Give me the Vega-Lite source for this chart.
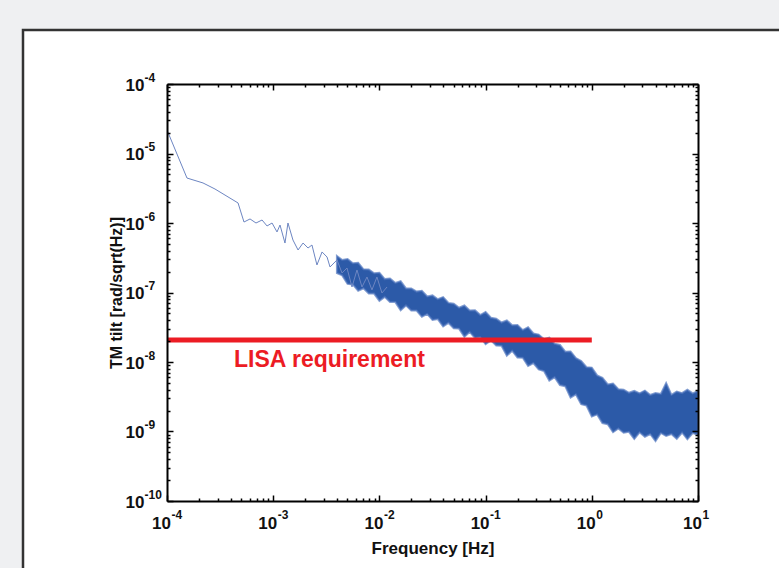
{
  "$schema": "https://vega.github.io/schema/vega-lite/v6.json",
  "width": 531,
  "height": 417,
  "autosize": {"type": "none"},
  "padding": {"left": 167, "top": 84, "right": 81, "bottom": 67},
  "background": "#eff0f2",
  "config": {
    "view": {"stroke": null},
    "font": "Liberation Sans",
    "axis": {
      "grid": false,
      "domainColor": "#000000",
      "domainWidth": 2,
      "tickColor": "#000000",
      "tickWidth": 1.5,
      "labelFont": "Liberation Sans",
      "labelFontWeight": "bold",
      "labelColor": "#111111",
      "labelFlush": false,
      "labelOverlap": false,
      "titleFont": "Liberation Sans",
      "titleFontWeight": "bold",
      "titleColor": "#111111"
    }
  },
  "datasets": {
    "low": [
      {"freq": 1.0e-4, "tilt": 2.178e-5},
      {"freq": 1.542e-4, "tilt": 4.436e-6},
      {"freq": 2.183e-4, "tilt": 3.767e-6},
      {"freq": 2.831e-4, "tilt": 3.083e-6},
      {"freq": 4.667e-4, "tilt": 1.941e-6},
      {"freq": 5.309e-4, "tilt": 1.033e-6},
      {"freq": 6.053e-4, "tilt": 1.143e-6},
      {"freq": 6.887e-4, "tilt": 1.0e-6},
      {"freq": 7.852e-4, "tilt": 1.104e-6},
      {"freq": 8.75e-4, "tilt": 9.06e-7},
      {"freq": 9.75e-4, "tilt": 1.0e-6},
      {"freq": 1.086e-3, "tilt": 7.43e-7},
      {"freq": 1.159e-3, "tilt": 9.35e-7},
      {"freq": 1.291e-3, "tilt": 5.15e-7},
      {"freq": 1.377e-3, "tilt": 1.0e-6},
      {"freq": 1.535e-3, "tilt": 5.69e-7},
      {"freq": 1.714e-3, "tilt": 4.09e-7},
      {"freq": 1.91e-3, "tilt": 5.15e-7},
      {"freq": 2.128e-3, "tilt": 4.37e-7},
      {"freq": 2.317e-3, "tilt": 4.82e-7},
      {"freq": 2.582e-3, "tilt": 2.49e-7},
      {"freq": 2.884e-3, "tilt": 3.83e-7},
      {"freq": 3.214e-3, "tilt": 3.24e-7},
      {"freq": 3.428e-3, "tilt": 2.33e-7},
      {"freq": 3.99e-3, "tilt": 2.94e-7},
      {"freq": 4.446e-3, "tilt": 1.91e-7},
      {"freq": 4.955e-3, "tilt": 2.25e-7},
      {"freq": 5.52e-3, "tilt": 1.2e-7},
      {"freq": 6.15e-3, "tilt": 2.11e-7},
      {"freq": 6.855e-3, "tilt": 1.2e-7},
      {"freq": 7.64e-3, "tilt": 1.67e-7},
      {"freq": 8.51e-3, "tilt": 1.09e-7},
      {"freq": 9.48e-3, "tilt": 1.67e-7},
      {"freq": 1.057e-2, "tilt": 9.84e-8},
      {"freq": 1.18e-2, "tilt": 1.2e-7}
    ],
    "band": [
      {"freq": 3.981e-3, "hi": 3.352e-7, "lo": 1.908e-7},
      {"freq": 4.467e-3, "hi": 2.936e-7, "lo": 1.762e-7},
      {"freq": 5.012e-3, "hi": 3.034e-7, "lo": 1.329e-7},
      {"freq": 5.623e-3, "hi": 2.631e-7, "lo": 1.308e-7},
      {"freq": 6.31e-3, "hi": 2.675e-7, "lo": 1.058e-7},
      {"freq": 7.079e-3, "hi": 2.157e-7, "lo": 1.149e-7},
      {"freq": 7.943e-3, "hi": 2.136e-7, "lo": 9.674e-8},
      {"freq": 8.913e-3, "hi": 1.895e-7, "lo": 9.643e-8},
      {"freq": 1.0e-2, "hi": 1.926e-7, "lo": 7.597e-8},
      {"freq": 1.122e-2, "hi": 1.559e-7, "lo": 8.647e-8},
      {"freq": 1.259e-2, "hi": 1.59e-7, "lo": 7.298e-8},
      {"freq": 1.413e-2, "hi": 1.374e-7, "lo": 7.275e-8},
      {"freq": 1.585e-2, "hi": 1.454e-7, "lo": 5.563e-8},
      {"freq": 1.778e-2, "hi": 1.146e-7, "lo": 6.524e-8},
      {"freq": 1.995e-2, "hi": 1.142e-7, "lo": 5.508e-8},
      {"freq": 2.239e-2, "hi": 1.03e-7, "lo": 5.49e-8},
      {"freq": 2.512e-2, "hi": 1.061e-7, "lo": 4.471e-8},
      {"freq": 2.818e-2, "hi": 8.758e-8, "lo": 4.922e-8},
      {"freq": 3.162e-2, "hi": 9.085e-8, "lo": 4.021e-8},
      {"freq": 3.548e-2, "hi": 8.011e-8, "lo": 4.143e-8},
      {"freq": 3.981e-2, "hi": 8.589e-8, "lo": 3.252e-8},
      {"freq": 4.467e-2, "hi": 7.087e-8, "lo": 3.664e-8},
      {"freq": 5.012e-2, "hi": 6.876e-8, "lo": 3.064e-8},
      {"freq": 5.623e-2, "hi": 6.044e-8, "lo": 3.024e-8},
      {"freq": 6.31e-2, "hi": 6.502e-8, "lo": 2.305e-8},
      {"freq": 7.079e-2, "hi": 5.526e-8, "lo": 2.711e-8},
      {"freq": 7.943e-2, "hi": 5.545e-8, "lo": 2.215e-8},
      {"freq": 8.913e-2, "hi": 4.73e-8, "lo": 2.274e-8},
      {"freq": 0.1, "hi": 5.241e-8, "lo": 1.804e-8},
      {"freq": 0.1122, "hi": 4.325e-8, "lo": 2.046e-8},
      {"freq": 0.1259, "hi": 4.198e-8, "lo": 1.728e-8},
      {"freq": 0.1413, "hi": 3.701e-8, "lo": 1.711e-8},
      {"freq": 0.1585, "hi": 3.969e-8, "lo": 1.232e-8},
      {"freq": 0.1778, "hi": 3.374e-8, "lo": 1.454e-8},
      {"freq": 0.1995, "hi": 3.396e-8, "lo": 1.157e-8},
      {"freq": 0.2239, "hi": 2.877e-8, "lo": 1.153e-8},
      {"freq": 0.2512, "hi": 3.167e-8, "lo": 8.789e-9},
      {"freq": 0.2818, "hi": 2.58e-8, "lo": 9.674e-9},
      {"freq": 0.3162, "hi": 2.478e-8, "lo": 7.8e-9},
      {"freq": 0.3548, "hi": 2.129e-8, "lo": 7.419e-9},
      {"freq": 0.3981, "hi": 2.237e-8, "lo": 5.418e-9},
      {"freq": 0.4467, "hi": 1.828e-8, "lo": 6.044e-9},
      {"freq": 0.5012, "hi": 1.757e-8, "lo": 4.669e-9},
      {"freq": 0.5623, "hi": 1.407e-8, "lo": 4.486e-9},
      {"freq": 0.631, "hi": 1.42e-8, "lo": 3.085e-9},
      {"freq": 0.7079, "hi": 1.138e-8, "lo": 3.43e-9},
      {"freq": 0.7943, "hi": 1.034e-8, "lo": 2.471e-9},
      {"freq": 0.8913, "hi": 8.42e-9, "lo": 2.366e-9},
      {"freq": 1.0, "hi": 8.307e-9, "lo": 1.639e-9},
      {"freq": 1.122, "hi": 6.415e-9, "lo": 1.762e-9},
      {"freq": 1.259, "hi": 5.945e-9, "lo": 1.325e-9},
      {"freq": 1.413, "hi": 4.762e-9, "lo": 1.274e-9},
      {"freq": 1.585, "hi": 4.905e-9, "lo": 9.77e-10},
      {"freq": 1.778, "hi": 4.061e-9, "lo": 1.108e-9},
      {"freq": 1.995, "hi": 3.994e-9, "lo": 9.61e-10},
      {"freq": 2.239, "hi": 3.605e-9, "lo": 9.901e-10},
      {"freq": 2.512, "hi": 3.838e-9, "lo": 7.825e-10},
      {"freq": 2.818, "hi": 3.544e-9, "lo": 9.739e-10},
      {"freq": 3.162, "hi": 3.876e-9, "lo": 8.42e-10},
      {"freq": 3.548, "hi": 3.352e-9, "lo": 9.204e-10},
      {"freq": 3.981, "hi": 3.581e-9, "lo": 7.298e-10},
      {"freq": 4.467, "hi": 3.464e-9, "lo": 9.515e-10},
      {"freq": 5.012, "hi": 4.987e-9, "lo": 8.618e-10},
      {"freq": 5.623, "hi": 3.363e-9, "lo": 9.204e-10},
      {"freq": 6.31, "hi": 3.762e-9, "lo": 7.877e-10},
      {"freq": 7.079, "hi": 3.568e-9, "lo": 9.674e-10},
      {"freq": 7.943, "hi": 3.981e-9, "lo": 7.724e-10},
      {"freq": 8.913, "hi": 3.533e-9, "lo": 9.484e-10},
      {"freq": 10.0, "hi": 3.825e-9, "lo": 8.904e-10}
    ],
    "req": [
      {"freq": 1.0e-4, "tilt": 2.07e-8},
      {"freq": 1.0, "tilt": 2.07e-8}
    ]
  },
  "layer": [
    {
      "data": {"values": [{"panel": "frame"}]},
      "mark": {"type": "rect", "fill": "#ffffff", "stroke": "#333333", "strokeWidth": 2.5, "clip": false},
      "encoding": {
        "x": {"datum": 4.406e-6, "type": "quantitative", "scale": {"type": "log", "domain": [1e-4, 10], "nice": false}, "axis": null},
        "x2": {"datum": 100},
        "y": {"datum": 5.98e-4, "type": "quantitative", "scale": {"type": "log", "domain": [1e-10, 1e-4], "nice": false}, "axis": null},
        "y2": {"datum": 1e-12}
      }
    },
    {
      "data": {"name": "band"},
      "mark": {"type": "area", "color": "#2c5aa8", "stroke": "#4f75bd", "strokeWidth": 2, "strokeOpacity": 0.7, "clip": true},
      "encoding": {
        "x": {
          "field": "freq", "type": "quantitative",
          "scale": {"type": "log", "domain": [1e-4, 10], "nice": false},
          "axis": {
            "orient": "bottom",
            "zindex": 2,
            "values": [1e-4, 2e-4, 3e-4, 4e-4, 5e-4, 6e-4, 7e-4, 8e-4, 9e-4, 1e-3, 2e-3, 3e-3, 4e-3, 5e-3, 6e-3, 7e-3, 8e-3, 9e-3, 0.01, 0.02, 0.03, 0.04, 0.05, 0.06, 0.07, 0.08, 0.09, 0.1, 0.2, 0.3, 0.4, 0.5, 0.6, 0.7, 0.8, 0.9, 1, 2, 3, 4, 5, 6, 7, 8, 9, 10],
            "labels": false,
            "title": null,
            "tickSize": {"condition": {"test": "abs(log(datum.value)/LN10 - round(log(datum.value)/LN10)) < 0.01", "value": -6}, "value": -3}
          }
        },
        "y": {
          "field": "hi", "type": "quantitative",
          "scale": {"type": "log", "domain": [1e-10, 1e-4], "nice": false},
          "axis": {
            "orient": "left",
            "zindex": 2,
            "values": [1e-10, 2e-10, 3e-10, 4e-10, 5e-10, 6e-10, 7e-10, 8e-10, 9e-10, 1e-9, 2e-9, 3e-9, 4e-9, 5e-9, 6e-9, 7e-9, 8e-9, 9e-9, 1e-8, 2e-8, 3e-8, 4e-8, 5e-8, 6e-8, 7e-8, 8e-8, 9e-8, 1e-7, 2e-7, 3e-7, 4e-7, 5e-7, 6e-7, 7e-7, 8e-7, 9e-7, 1e-6, 2e-6, 3e-6, 4e-6, 5e-6, 6e-6, 7e-6, 8e-6, 9e-6, 1e-5, 2e-5, 3e-5, 4e-5, 5e-5, 6e-5, 7e-5, 8e-5, 9e-5, 1e-4],
            "labels": false,
            "title": null,
            "tickSize": {"condition": {"test": "abs(log(datum.value)/LN10 - round(log(datum.value)/LN10)) < 0.01", "value": -6}, "value": -3}
          }
        },
        "y2": {"field": "lo"}
      }
    },
    {
      "data": {"name": "low"},
      "mark": {"type": "line", "color": "#6d86c2", "strokeWidth": 1, "clip": true},
      "encoding": {
        "x": {
          "field": "freq", "type": "quantitative",
          "scale": {"type": "log", "domain": [1e-4, 10], "nice": false},
          "axis": {
            "orient": "bottom",
            "zindex": 2,
            "values": [1e-4, 1e-3, 1e-2, 0.1, 1, 10],
            "domain": false,
            "ticks": false,
            "labelExpr": "'10'",
            "labelFontSize": 17,
            "labelAlign": "center",
            "labelBaseline": "top",
            "labelOffset": -6,
            "labelPadding": 14,
            "title": "Frequency [Hz]",
            "titleFontSize": 17,
            "titlePadding": 9
          }
        },
        "y": {
          "field": "tilt", "type": "quantitative",
          "scale": {"type": "log", "domain": [1e-10, 1e-4], "nice": false},
          "axis": {
            "orient": "left",
            "zindex": 2,
            "values": [1e-10, 1e-9, 1e-8, 1e-7, 1e-6, 1e-5, 1e-4],
            "domain": false,
            "ticks": false,
            "labelExpr": "'10'",
            "labelFontSize": 17,
            "labelAlign": "left",
            "labelBaseline": "middle",
            "labelOffset": 1,
            "labelPadding": 42,
            "title": "TM tilt [rad/sqrt(Hz)]",
            "titleFontSize": 16,
            "titlePadding": 1
          }
        }
      }
    },
    {
      "data": {"name": "req"},
      "mark": {"type": "line", "color": "#ec1c24", "strokeWidth": 5, "strokeCap": "butt"},
      "encoding": {
        "x": {
          "field": "freq", "type": "quantitative",
          "scale": {"type": "log", "domain": [1e-4, 10], "nice": false},
          "axis": {
            "orient": "top",
            "zindex": 2,
            "values": [1e-4, 2e-4, 3e-4, 4e-4, 5e-4, 6e-4, 7e-4, 8e-4, 9e-4, 1e-3, 2e-3, 3e-3, 4e-3, 5e-3, 6e-3, 7e-3, 8e-3, 9e-3, 0.01, 0.02, 0.03, 0.04, 0.05, 0.06, 0.07, 0.08, 0.09, 0.1, 0.2, 0.3, 0.4, 0.5, 0.6, 0.7, 0.8, 0.9, 1, 2, 3, 4, 5, 6, 7, 8, 9, 10],
            "labels": false,
            "title": null,
            "tickSize": {"condition": {"test": "abs(log(datum.value)/LN10 - round(log(datum.value)/LN10)) < 0.01", "value": -6}, "value": -3}
          }
        },
        "y": {
          "field": "tilt", "type": "quantitative",
          "scale": {"type": "log", "domain": [1e-10, 1e-4], "nice": false},
          "axis": {
            "orient": "right",
            "zindex": 2,
            "values": [1e-10, 2e-10, 3e-10, 4e-10, 5e-10, 6e-10, 7e-10, 8e-10, 9e-10, 1e-9, 2e-9, 3e-9, 4e-9, 5e-9, 6e-9, 7e-9, 8e-9, 9e-9, 1e-8, 2e-8, 3e-8, 4e-8, 5e-8, 6e-8, 7e-8, 8e-8, 9e-8, 1e-7, 2e-7, 3e-7, 4e-7, 5e-7, 6e-7, 7e-7, 8e-7, 9e-7, 1e-6, 2e-6, 3e-6, 4e-6, 5e-6, 6e-6, 7e-6, 8e-6, 9e-6, 1e-5, 2e-5, 3e-5, 4e-5, 5e-5, 6e-5, 7e-5, 8e-5, 9e-5, 1e-4],
            "labels": false,
            "title": null,
            "tickSize": {"condition": {"test": "abs(log(datum.value)/LN10 - round(log(datum.value)/LN10)) < 0.01", "value": -6}, "value": -3}
          }
        }
      }
    },
    {
      "data": {"values": [{"label": "LISA requirement"}]},
      "mark": {"type": "text", "color": "#ec1c24", "font": "Liberation Sans", "fontWeight": "bold", "fontSize": 23, "align": "left", "baseline": "alphabetic"},
      "encoding": {
        "x": {
          "datum": 4.276e-4, "type": "quantitative",
          "scale": {"type": "log", "domain": [1e-4, 10], "nice": false},
          "axis": {
            "orient": "bottom",
            "zindex": 2,
            "values": [1e-4, 1e-3, 1e-2, 0.1, 1, 10],
            "domain": false,
            "ticks": false,
            "labelExpr": "'' + round(log(datum.value)/LN10)",
            "labelFontSize": 12,
            "labelAlign": "left",
            "labelBaseline": "top",
            "labelOffset": 4,
            "labelPadding": 8,
            "title": null
          }
        },
        "y": {
          "datum": 8.475e-9, "type": "quantitative",
          "scale": {"type": "log", "domain": [1e-10, 1e-4], "nice": false},
          "axis": {
            "orient": "left",
            "zindex": 2,
            "values": [1e-10, 1e-9, 1e-8, 1e-7, 1e-6, 1e-5, 1e-4],
            "domain": false,
            "ticks": false,
            "labelExpr": "'' + round(log(datum.value)/LN10)",
            "labelFontSize": 12,
            "labelAlign": "left",
            "labelBaseline": "middle",
            "labelOffset": -7,
            "labelPadding": 23,
            "title": null
          }
        },
        "text": {"field": "label"}
      }
    }
  ],
  "resolve": {"axis": {"x": "independent", "y": "independent"}}
}
